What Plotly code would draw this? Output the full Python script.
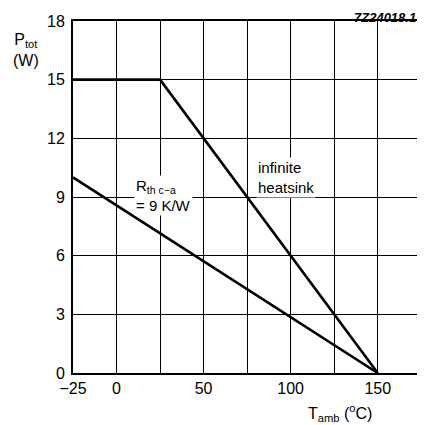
import plotly.graph_objects as go

# data
heatsink_x = [-25, 25, 150]
heatsink_y = [15, 15, 0]
rth_x = [-25, 150]
rth_y = [10, 0]
x_grid = [-25, 0, 25, 50, 75, 100, 125, 150]
x_labels = ["\u221225", "0", "", "50", "", "100", "", "150"]
y_ticks = [0, 3, 6, 9, 12, 15, 18]
y_labels = ["0", "3", "6", "9", "12", "15", "18"]

FONT = "Liberation Sans, Arial, sans-serif"
fig = go.Figure()
line = dict(color="black", width=2.6)
fig.add_trace(go.Scatter(x=heatsink_x, y=heatsink_y, mode="lines", line=line, showlegend=False))
fig.add_trace(go.Scatter(x=rth_x, y=rth_y, mode="lines", line=line, showlegend=False))

fig.update_layout(
    width=417, height=417,
    margin=dict(l=65, r=0, t=13, b=52),
    plot_bgcolor="white", paper_bgcolor="white",
    font=dict(family=FONT, size=16, color="black"),
    xaxis=dict(range=[-25, 176], tickmode="array", tickvals=x_grid, ticktext=x_labels,
               showgrid=True, gridcolor="black", gridwidth=1.3, zeroline=False,
               showline=True, linecolor="black", linewidth=2, mirror=True,
               ticks="", ticklen=0, tickfont=dict(size=16)),
    yaxis=dict(range=[0, 18], tickmode="array", tickvals=y_ticks, ticktext=y_labels,
               showgrid=True, gridcolor="black", gridwidth=1.3, zeroline=False,
               showline=True, linecolor="black", linewidth=2, mirror=True,
               ticks="", ticklen=0, ticklabelstandoff=3, tickfont=dict(size=16)),
    annotations=[
        dict(text="P<sub>tot</sub><br>(W)", xref="paper", yref="paper", x=-0.176, y=0.976,
             xanchor="left", showarrow=False, font=dict(size=16), align="center"),
        dict(text="T<sub>amb</sub> (<sup>o</sup>C)", xref="paper", yref="paper", x=0.763, y=-0.15,
             xanchor="center", showarrow=False, font=dict(size=16)),
        dict(text="<b><i>7Z24018.1</i></b>", xref="paper", yref="paper", x=0.985, y=1.01,
             xanchor="right", yanchor="middle", showarrow=False, font=dict(size=13)),
        dict(text="infinite<br>heatsink", x=80, y=10.0, xanchor="left", showarrow=False,
             align="left", font=dict(size=15), bgcolor="white"),
        dict(text="R<sub>th c\u2212a</sub><br>= 9 K/W", x=10.0, y=9.1, xanchor="left", showarrow=False,
             align="left", font=dict(size=15), bgcolor="white"),
    ],
)
fig.write_html("out.html")
